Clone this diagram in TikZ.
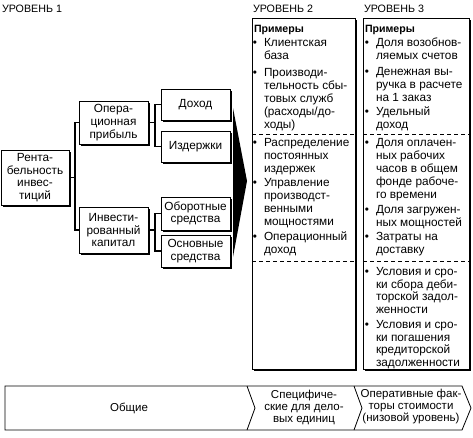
\documentclass[tikz,border=0pt]{standalone}
\usepackage{fontspec}
\setmainfont{Liberation Sans}
\usetikzlibrary{shadows}
\begin{document}
\begin{tikzpicture}[x=1pt,y=-1pt,
  every node/.style={inner sep=0pt, outer sep=0pt},
  tbox/.style={draw, line width=0.8pt, fill=white, align=center,
    font=\fontsize{11.8}{12.6}\selectfont,
    drop shadow={shadow xshift=1.8pt, shadow yshift=-1.8pt, fill=black, opacity=1}},
  colbox/.style={draw, line width=0.8pt, fill=white, anchor=north west,
    drop shadow={shadow xshift=1.8pt, shadow yshift=-1.8pt, fill=black, opacity=1}},
  conn/.style={line width=1.6pt},
  item/.style={anchor=base west, align=left, font=\fontsize{11.8}{13}\selectfont},
  itemb/.style={anchor=base west, align=left, font=\fontsize{11.8}{12.7}\selectfont},
  hdr/.style={anchor=base west, font=\fontsize{10.7}{12}\selectfont},
  ex/.style={anchor=base west, font=\fontsize{10.6}{13}\selectfont\bfseries},
  sep/.style={dash pattern=on 4pt off 3pt, line width=0.6pt},
  bandtxt/.style={align=center, font=\fontsize{11.5}{12}\selectfont},
]
\useasboundingbox (0,0) rectangle (473,437);

% headers
\node[hdr] (h1) at (2,12) {УРОВЕНЬ 1};
\node[hdr] (h2) at (253,12) {УРОВЕНЬ 2};
\node[hdr] (h3) at (364,12) {УРОВЕНЬ 3};

% tree
\node[tbox, minimum width=68, minimum height=55] (rent) at (35,177.5) {Рента-\\бельность\\инвес-\\тиций};
\node[tbox, minimum width=69, minimum height=43] (op) at (113.5,122.5) {Опера-\\ционная\\прибыль};
\node[tbox, minimum width=69, minimum height=46] (inv) at (113.5,230) {Инвести-\\рованный\\капитал};
\node[tbox, minimum width=69, minimum height=31] (doh) at (195.5,104.5) {Доход};
\node[tbox, minimum width=69, minimum height=31] (izd) at (195.5,146.5) {Издержки};
\node[tbox, minimum width=69, minimum height=33] (obor) at (195.5,213.5) {Оборотные\\средства};
\node[tbox, minimum width=69, minimum height=32] (osn) at (195.5,251) {Основные\\средства};

\coordinate (j1) at (75,177.5);
\coordinate (j2) at (155,122.5);
\coordinate (j3) at (155,230);
\draw[conn] (rent.east) -- (j1);
\draw[conn] (op.west) -| (j1) |- (inv.west);
\draw[conn] (op.east) -- (j2);
\draw[conn] (doh.west) -| (j2) |- (izd.west);
\draw[conn] (inv.east) -- (j3);
\draw[conn] (obor.west) -| (j3) |- (osn.west);

% big arrow
\fill (233,108) -- (247,181) -- (233,257) -- cycle;

% columns
\node[colbox, minimum width=103, minimum height=351] (col2) at (252,18) {};
\node[colbox, minimum width=106, minimum height=351] (col3) at (363,18) {};
\draw[sep] (252,134) -- (355,134);
\draw[sep] (252,261) -- (355,261);
\draw[sep] (363,134) -- (469,134);
\draw[sep] (363,261) -- (469,261);

\node[ex] (p2) at (254,32) {Примеры};
\node[ex] (p3) at (365,32) {Примеры};

% items: anchor is the baseline of the LAST line
\node[item] (a1) at (264,59.5) {\llap{•\hspace{7pt}}Клиентская\\база};
\node[item] (a2) at (264,128.5) {\llap{•\hspace{7pt}}Производи-\\тельность сбы-\\товых служб\\(расходы/до-\\ходы)};
\node[item] (a3) at (264,172.5) {\llap{•\hspace{7pt}}Распределение\\постоянных\\издержек};
\node[item] (a4) at (264,225.5) {\llap{•\hspace{7pt}}Управление\\производст-\\венными\\мощностями};
\node[item] (a5) at (264,253.5) {\llap{•\hspace{7pt}}Операционный\\доход};

\node[item] (b1) at (376,59.5) {\llap{•\hspace{7pt}}Доля возобнов-\\ляемых счетов};
\node[item] (b2) at (376,101.5) {\llap{•\hspace{7pt}}Денежная вы-\\ручка в расчете\\на 1 заказ};
\node[item] (b3) at (376,128.5) {\llap{•\hspace{7pt}}Удельный\\доход};
\node[item] (b4) at (376,198.5) {\llap{•\hspace{7pt}}Доля оплачен-\\ных рабочих\\часов в общем\\фонде рабоче-\\го времени};
\node[item] (b5) at (376,226.5) {\llap{•\hspace{7pt}}Доля загружен-\\ных мощностей};
\node[item] (b6) at (376,253.5) {\llap{•\hspace{7pt}}Затраты на\\доставку};
\node[itemb] (b7) at (376,313.5) {\llap{•\hspace{7pt}}Условия и сро-\\ки сбора деби-\\торской задол-\\женности};
\node[itemb] (b8) at (376,366.5) {\llap{•\hspace{7pt}}Условия и сро-\\ки погашения\\кредиторской\\задолженности};

% bottom band
\draw[line width=0.8pt] (5,386) -- (462,386) -- (471,408) -- (462,430) -- (5,430) -- cycle;
\draw[line width=0.8pt] (247,386) -- (255,408) -- (247,430);
\draw[line width=0.8pt] (354,386) -- (362,408) -- (354,430);
\node[bandtxt] (g1) at (129,408) {Общие};
\node[bandtxt] (g2) at (304,407) {Специфиче-\\ские для дело-\\вых единиц};
\node[bandtxt] (g3) at (411,407) {Оперативные фак-\\торы стоимости\\(низовой уровень)};
\end{tikzpicture}
\end{document}
